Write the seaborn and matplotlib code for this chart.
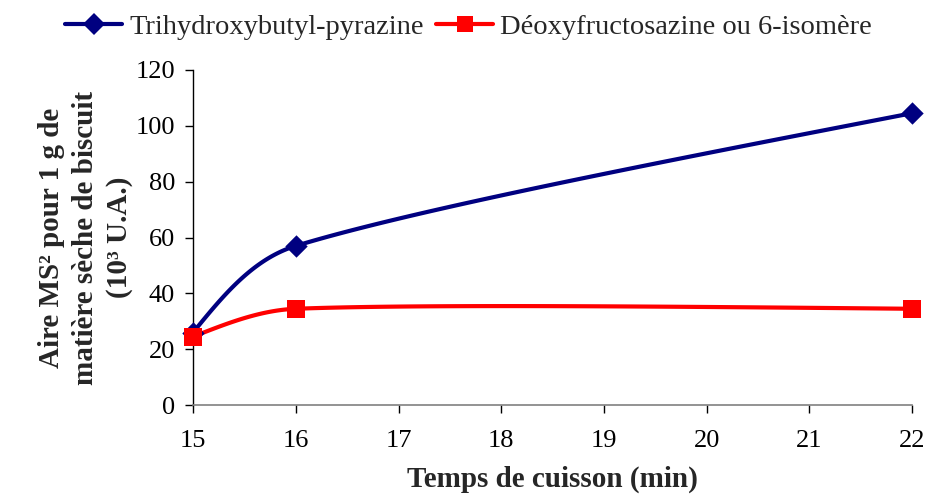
import numpy as np
import pandas as pd
import matplotlib
matplotlib.use("Agg")
import matplotlib.pyplot as plt
from matplotlib.lines import Line2D
import seaborn as sns

# Cooking time (min) and MS² peak areas (10³ U.A.) per g of dry biscuit
temps = [15, 16, 22]
pyrazine = [26, 57, 104.5]
fructosazine = [24.5, 34.5, 34.5]
series_names = ["Trihydroxybutyl-pyrazine", "Déoxyfructosazine ou 6-isomère"]
series_colors = ["#000080", "#FF0000"]
series_markers = ["D", "s"]
x_ticks = [15, 16, 17, 18, 19, 20, 21, 22]
y_ticks = [0, 20, 40, 60, 80, 100, 120]

sns.set_theme(style="white")
plt.rcParams["font.family"] = ["Liberation Serif", "DejaVu Serif"]

fig = plt.figure(figsize=(9.28, 4.99), dpi=100)
ax = fig.add_axes([0.208, 0.188, 0.775, 0.672])
ax.set_xlim(15, 22)
ax.set_ylim(0, 120)


def smooth_path(ax, xs, ys, n=60):
    """Bezier smoothing in screen space, like spreadsheet 'smoothed line' charts."""
    pts = ax.transData.transform(np.column_stack([xs, ys]))
    m = len(pts)
    c_out = [None] * m   # control point leaving each point
    c_in = [None] * m    # control point arriving at each point
    for i in range(1, m - 1):
        v = (pts[i + 1] - pts[i - 1]) / 6
        lv = np.linalg.norm(v)
        seg_in = np.linalg.norm(pts[i] - pts[i - 1])
        seg_out = np.linalg.norm(pts[i + 1] - pts[i])
        c_in[i] = pts[i] - v * min(1.0, (seg_in / 3) / lv)
        c_out[i] = pts[i] + v * min(1.0, (seg_out / 3) / lv)
    # free ends aim halfway towards the neighbouring control point
    c_out[0] = pts[0] + (c_in[1] - pts[0]) / 2 if m > 2 else pts[0] + (pts[1] - pts[0]) / 3
    c_in[m - 1] = pts[m - 1] + (c_out[m - 2] - pts[m - 1]) / 2 if m > 2 else pts[1] - (pts[1] - pts[0]) / 3
    out = [pts[0]]
    t = np.linspace(0, 1, n)[1:, None]
    for i in range(m - 1):
        p1, c1, c2, p2 = pts[i], c_out[i], c_in[i + 1], pts[i + 1]
        b = ((1 - t) ** 3) * p1 + 3 * ((1 - t) ** 2) * t * c1 + 3 * (1 - t) * t ** 2 * c2 + t ** 3 * p2
        out.extend(b)
    out = ax.transData.inverted().transform(np.array(out))
    return out[:, 0], out[:, 1]


handles = []
for name, vals, col, mk in zip(series_names, [pyrazine, fructosazine], series_colors, series_markers):
    sx, sy = smooth_path(ax, temps, vals)
    curve = pd.DataFrame({"x": sx, "y": sy})
    sns.lineplot(data=curve, x="x", y="y", ax=ax, color=col, linewidth=3,
                 sort=False, estimator=None, legend=False)
    pts = pd.DataFrame({"x": temps, "y": vals})
    msize = 130 if mk == "D" else 160
    sns.scatterplot(data=pts, x="x", y="y", ax=ax, color=col, marker=mk, s=msize,
                    edgecolor=col, linewidth=0, zorder=5, legend=False, clip_on=False)
    handles.append(Line2D([], [], color=col, linewidth=3, marker=mk,
                          markersize=11 if mk == "D" else 12, markeredgewidth=0, label=name))

ax.set_xlim(15, 22)
ax.set_ylim(0, 120)
ax.set_xticks(x_ticks)
ax.set_yticks(y_ticks)
ax.tick_params(axis="both", labelsize=19, colors="black", length=6, width=1, direction="out")
ax.tick_params(axis="x", pad=12)
ax.tick_params(axis="y", pad=7)
for s in ["top", "right"]:
    ax.spines[s].set_visible(False)
ax.spines["left"].set_color("black")
ax.spines["bottom"].set_color("#808080")
ax.spines["left"].set_linewidth(1)
ax.spines["bottom"].set_linewidth(1.2)
ax.xaxis.set_ticks_position("bottom")
ax.yaxis.set_ticks_position("left")
for t in ax.xaxis.get_ticklines():
    t.set_color("#808080")

ax.set_xlabel("Temps de cuisson (min)", fontsize=21, fontweight="bold", labelpad=10)
ax.set_ylabel("Aire MS² pour 1 g de\nmatière sèche de biscuit\n(10³ U.A.)", fontsize=21,
              fontweight="bold", linespacing=1.32, labelpad=2)

fig.legend(handles=handles, loc="center", bbox_to_anchor=(0.505, 0.945), ncol=2,
           frameon=False, fontsize=20.5, handlelength=2.0, handletextpad=0.25,
           columnspacing=0.45, borderpad=0, borderaxespad=0)

fig.savefig("out.png", dpi=100)
